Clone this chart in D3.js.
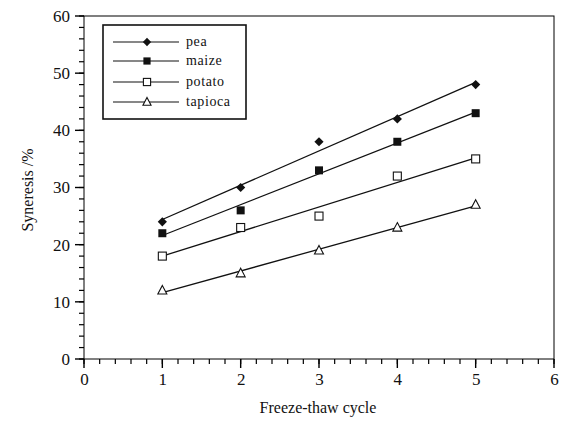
<!DOCTYPE html>
<html><head><meta charset="utf-8">
<script src="https://cdn.jsdelivr.net/npm/d3@7"></script>
<style>body{margin:0;background:#fff}svg{display:block}text{font-family:"Liberation Serif","Times New Roman",serif;fill:#111}line.tk{stroke:#000}</style>
</head><body>
<svg id="c" width="563" height="427"></svg>
<script>
const cycles = [1, 2, 3, 4, 5];
const seriesNames = ["pea", "maize", "potato", "tapioca"];
const pea = [24, 30, 38, 42, 48];
const maize = [22, 26, 33, 38, 43];
const potato = [18, 23, 25, 32, 35];
const tapioca = [12, 15, 19, 23, 27];
const xTicks = [0, 1, 2, 3, 4, 5, 6];
const yTicks = [0, 10, 20, 30, 40, 50, 60];
const seriesValues = [pea, maize, potato, tapioca];
const markers = ["diamond", "filledSquare", "openSquare", "triangle"];

const svg = d3.select("#c");
const L = 84, R = 554, T = 16, B = 359;
const x = d3.scaleLinear().domain([0, 6]).range([L, R]);
const y = d3.scaleLinear().domain([0, 60]).range([B, T]);

// frame
svg.append("rect").attr("x", L).attr("y", T).attr("width", R - L).attr("height", B - T)
  .attr("fill", "none").attr("stroke", "#000").attr("stroke-width", 1);

// ticks (minor and major)
const xMinor = d3.range(0, 6.001, 0.2);
const yMinor = d3.range(0, 60.001, 2);
const tg = svg.append("g").attr("class", "ticks");
tg.selectAll("line.xm").data(xMinor).join("line").attr("class", "tk xm")
  .attr("x1", d => x(d)).attr("x2", d => x(d))
  .attr("y1", B).attr("y2", B + 5).attr("stroke-width", 1.2);
tg.selectAll("line.xM").data(xTicks).join("line").attr("class", "tk xM")
  .attr("x1", d => x(d)).attr("x2", d => x(d))
  .attr("y1", B).attr("y2", B + 9).attr("stroke-width", 1.4);
tg.selectAll("line.ym").data(yMinor).join("line").attr("class", "tk ym")
  .attr("y1", d => y(d)).attr("y2", d => y(d))
  .attr("x1", L - 5).attr("x2", L).attr("stroke-width", 1.2);
tg.selectAll("line.yM").data(yTicks).join("line").attr("class", "tk yM")
  .attr("y1", d => y(d)).attr("y2", d => y(d))
  .attr("x1", L - 9).attr("x2", L).attr("stroke-width", 1.4);

// axis labels via d3 axes
const gx2 = svg.append("g").attr("transform", `translate(0,${B})`)
  .call(d3.axisBottom(x).tickValues(xTicks).tickSize(9).tickPadding(5).tickFormat(d3.format("d")));
gx2.select(".domain").remove();
gx2.selectAll(".tick line").remove();
gx2.selectAll("text").style("font-size", "17px").style("font-family", "'Liberation Serif', serif").attr("fill", "#111");
const gy2 = svg.append("g").attr("transform", `translate(${L},0)`)
  .call(d3.axisLeft(y).tickValues(yTicks).tickSize(9).tickPadding(5).tickFormat(d3.format("d")));
gy2.select(".domain").remove();
gy2.selectAll(".tick line").remove();
gy2.selectAll("text").style("font-size", "17px").style("font-family", "'Liberation Serif', serif").attr("fill", "#111");

// titles
svg.append("text").attr("x", 318).attr("y", 413).attr("text-anchor", "middle")
  .style("font-size", "16px").text("Freeze-thaw cycle");
svg.append("text").attr("transform", "translate(33,190) rotate(-90)").attr("text-anchor", "middle")
  .style("font-size", "16px").text("Syneresis /%");

function drawMarker(g, type, cx, cy, s) {
  s = s || 1;
  if (type === "diamond") {
    const r = 4.6 * s;
    g.append("path").attr("d", `M${cx},${cy - r}L${cx + r},${cy}L${cx},${cy + r}L${cx - r},${cy}Z`).attr("fill", "#111");
  } else if (type === "filledSquare") {
    const h = 4 * s;
    g.append("rect").attr("x", cx - h).attr("y", cy - h).attr("width", 2 * h).attr("height", 2 * h).attr("fill", "#111");
  } else if (type === "openSquare") {
    const h = 4 * s;
    g.append("rect").attr("x", cx - h).attr("y", cy - h).attr("width", 2 * h).attr("height", 2 * h)
      .attr("fill", "#fff").attr("stroke", "#111").attr("stroke-width", 1.1);
  } else {
    const h = 4.5 * s;
    g.append("path").attr("d", `M${cx},${cy - h * 1.1}L${cx + h},${cy + h * 0.8}L${cx - h},${cy + h * 0.8}Z`)
      .attr("fill", "#fff").attr("stroke", "#111").attr("stroke-width", 1.1);
  }
}

// least-squares lines + points
seriesValues.forEach((vals, i) => {
  const n = cycles.length;
  const mx = d3.mean(cycles), my = d3.mean(vals);
  const slope = d3.sum(cycles, (c, k) => (c - mx) * (vals[k] - my)) / d3.sum(cycles, c => (c - mx) ** 2);
  const fit = c => my + slope * (c - mx);
  const x0 = cycles[0], x1 = cycles[n - 1];
  svg.append("line").attr("x1", x(x0)).attr("y1", y(fit(x0))).attr("x2", x(x1)).attr("y2", y(fit(x1)))
    .attr("stroke", "#111").attr("stroke-width", 1.3);
  const g = svg.append("g");
  cycles.forEach((c, k) => drawMarker(g, markers[i], x(c), y(vals[k])));
});

// legend
const lg = svg.append("g");
lg.append("rect").attr("x", 103).attr("y", 25).attr("width", 143).attr("height", 94)
  .attr("fill", "#fff").attr("stroke", "#111").attr("stroke-width", 1.6);
const ly = [42, 61, 82, 102];
seriesNames.forEach((name, i) => {
  lg.append("line").attr("x1", 113).attr("x2", 179).attr("y1", ly[i]).attr("y2", ly[i])
    .attr("stroke", "#111").attr("stroke-width", 1.1);
  drawMarker(lg, markers[i], 147, ly[i], 0.9);
  lg.append("text").attr("x", 186).attr("y", ly[i] + 4).style("font-size", "14px")
    .style("letter-spacing", "0.6px").text(name);
});
</script>
</body></html>
